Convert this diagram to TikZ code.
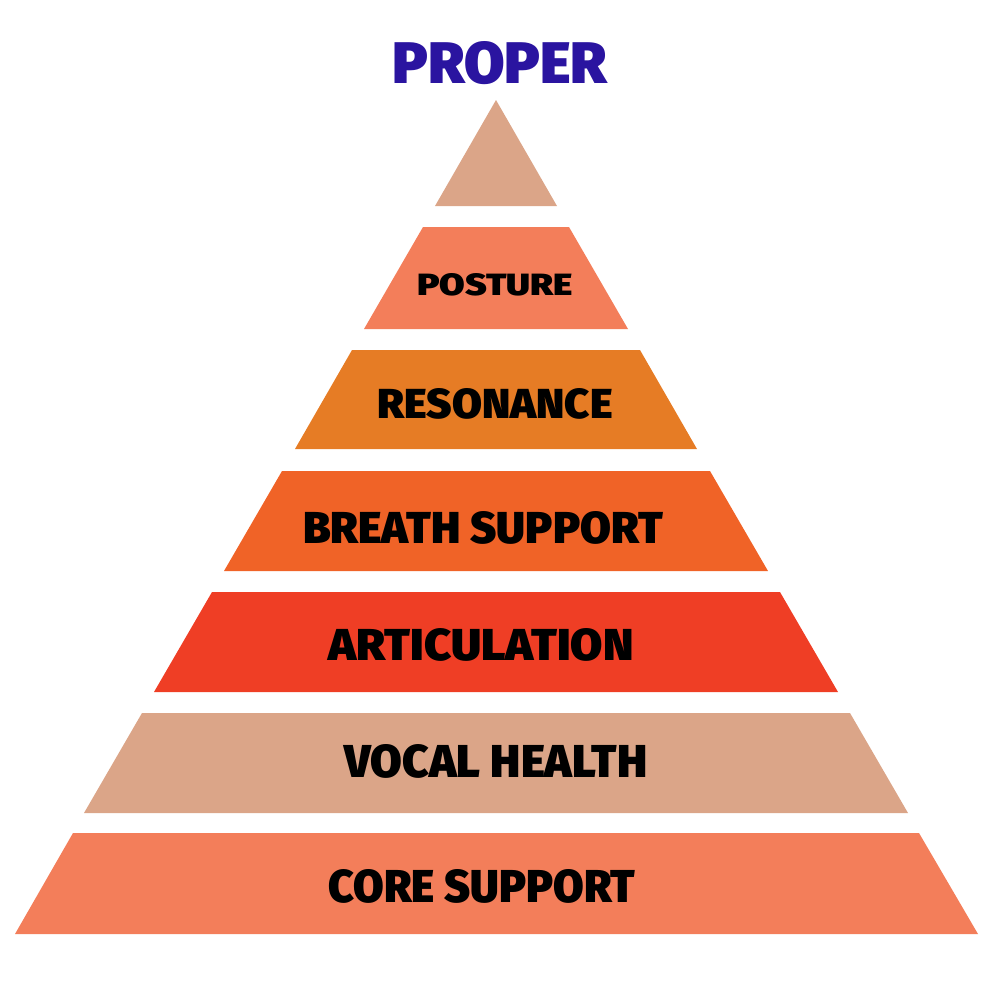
\documentclass[tikz,border=0pt]{standalone}
\usepackage{fontspec}
\usepackage{graphicx}
\newfontfamily\heavy{Fira Sans Black}
\definecolor{tan}{RGB}{219,165,136}
\definecolor{salmon}{RGB}{243,126,90}
\definecolor{amber}{RGB}{230,124,37}
\definecolor{tangerine}{RGB}{240,99,39}
\definecolor{vermilion}{RGB}{239,62,37}
\definecolor{indigo}{RGB}{42,20,160}
% text squeezed into a w x h box (pt)
\newcommand{\lbl}[3]{\resizebox{#1pt}{#2pt}{\heavy #3}}

\begin{document}
\begin{tikzpicture}[x=0.75pt,y=0.75pt,yscale=-1,
  label/.style={anchor=base,inner sep=0pt,text=black}]
\path (0,0) rectangle (1000,1000); %set diagram size 1000 x 1000

%Shape: Triangle [top]
\fill [tan] (496,100) -- (557,206) -- (435,206) -- cycle ;
%Shape: Trapezoid [posture]
\fill [salmon] (423,227) -- (569,227) -- (628,329) -- (364,329) -- cycle ;
%Shape: Trapezoid [resonance]
\fill [amber] (352,350) -- (640,350) -- (697,449) -- (295,449) -- cycle ;
%Shape: Trapezoid [breath]
\fill [tangerine] (282,471) -- (710,471) -- (768,571) -- (224,571) -- cycle ;
%Shape: Trapezoid [articulation]
\fill [vermilion] (212,592) -- (780,592) -- (838,692) -- (154,692) -- cycle ;
%Shape: Trapezoid [vocal]
\fill [tan] (142,713) -- (850,713) -- (908,813) -- (84,813) -- cycle ;
%Shape: Trapezoid [core]
\fill [salmon] (73,833) -- (919,833) -- (978,934) -- (15,934) -- cycle ;

% Text Node
\node [label,text=indigo] (proper) at (500,83) {\lbl{161.25}{31.5}{PROPER}};
% Text Node
\node [label] (posture) at (495,295) {\lbl{117}{16.5}{POSTURE}};
% Text Node
\node [label] (resonance) at (495,418) {\lbl{176.25}{22.5}{RESONANCE}};
% Text Node
\node [label] (breath) at (483,543) {\lbl{270}{24}{BREATH SUPPORT}};
% Text Node
\node [label] (articulation) at (481,660) {\lbl{228.75}{24}{ARTICULATION}};
% Text Node
\node [label] (vocal) at (496,777) {\lbl{227.25}{24.75}{VOCAL HEALTH}};
% Text Node
\node [label] (core) at (482,902) {\lbl{230.25}{24.75}{CORE SUPPORT}};

\end{tikzpicture}
\end{document}
